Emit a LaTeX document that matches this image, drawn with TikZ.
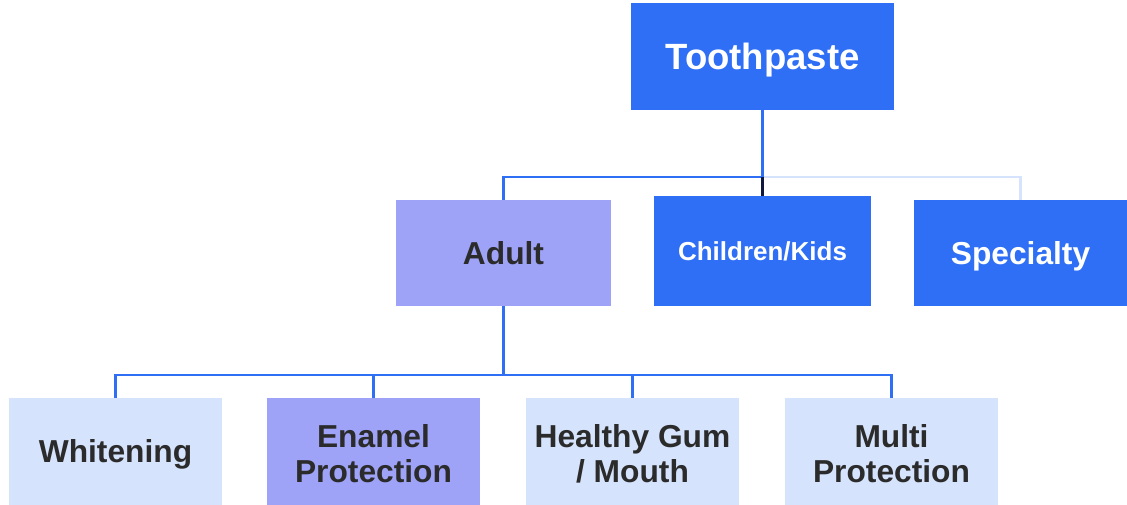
\documentclass[tikz,border=0pt]{standalone}
\usepackage{fontspec}
\setmainfont{Liberation Sans}
\definecolor{dblue}{HTML}{2E6FF5}
\definecolor{lpurple}{HTML}{9EA3F7}
\definecolor{lblue}{HTML}{D6E3FC}
\definecolor{dtext}{HTML}{2B2B2B}
\definecolor{navy}{HTML}{101840}
\newcommand\twolines[2]{\raisebox{-4.5pt}[\height][\depth]{\begin{tabular}{@{}c@{}}#1\\#2\end{tabular}}}
\begin{document}
\begin{tikzpicture}[x=0.75pt,y=-0.75pt,
  box/.style={rectangle,inner sep=0pt,minimum width=213*0.75pt,minimum height=107*0.75pt,align=center,font=\bfseries\fontsize{23.8}{26.25}\selectfont},
  oneline/.style={text height=17pt,text depth=0pt},
  bluebox/.style={box,fill=dblue,text=white},
  purplebox/.style={box,fill=lpurple,text=dtext},
  lightbox/.style={box,fill=lblue,text=dtext},
  conn/.style={draw=dblue,line width=1.9pt},
  lconn/.style={draw=lblue,line width=1.9pt},
  nconn/.style={draw=navy,line width=1.9pt}]
\useasboundingbox (0,0) rectangle (1127,505);
\node[bluebox,minimum width=263*0.75pt,text height=19.6pt,text depth=0pt,font=\bfseries\fontsize{27.4}{30}\selectfont] (tp) at (762.5,56.5) {Toothpaste};
\node[purplebox,oneline,minimum width=215*0.75pt,minimum height=106*0.75pt] (adult) at (503.5,253) {Adult};
\node[bluebox,minimum width=217*0.75pt,minimum height=110*0.75pt,text height=14pt,text depth=0pt,font=\bfseries\fontsize{19.5}{22}\selectfont] (kids) at (762.5,251) {Children/Kids};
\node[bluebox,oneline,minimum height=106*0.75pt] (spec) at (1020.5,253) {Specialty};
\node[lightbox,oneline] (white) at (115.5,451.5) {Whitening};
\node[purplebox] (enamel) at (373.5,451.5) {\twolines{Enamel}{Protection}};
\node[lightbox] (gum) at (632.5,451.5) {\twolines{Healthy Gum}{/ Mouth}};
\node[lightbox] (multi) at (891.5,451.5) {\twolines{Multi}{Protection}};
\coordinate (j1) at (762.5,177);
\coordinate (j2) at (503.5,375);
% top level
\draw[lconn] (j1) -| (spec.north);
\draw[conn] (tp.south) -- (j1) -| (adult.north);
\draw[nconn] (j1) -- (kids.north);
% second level
\draw[conn] (adult.south) -- (j2);
\draw[conn] (j2) -| (white.north);
\draw[conn] (j2) -| (enamel.north);
\draw[conn] (j2) -| (gum.north);
\draw[conn] (j2) -| (multi.north);
\end{tikzpicture}
\end{document}
